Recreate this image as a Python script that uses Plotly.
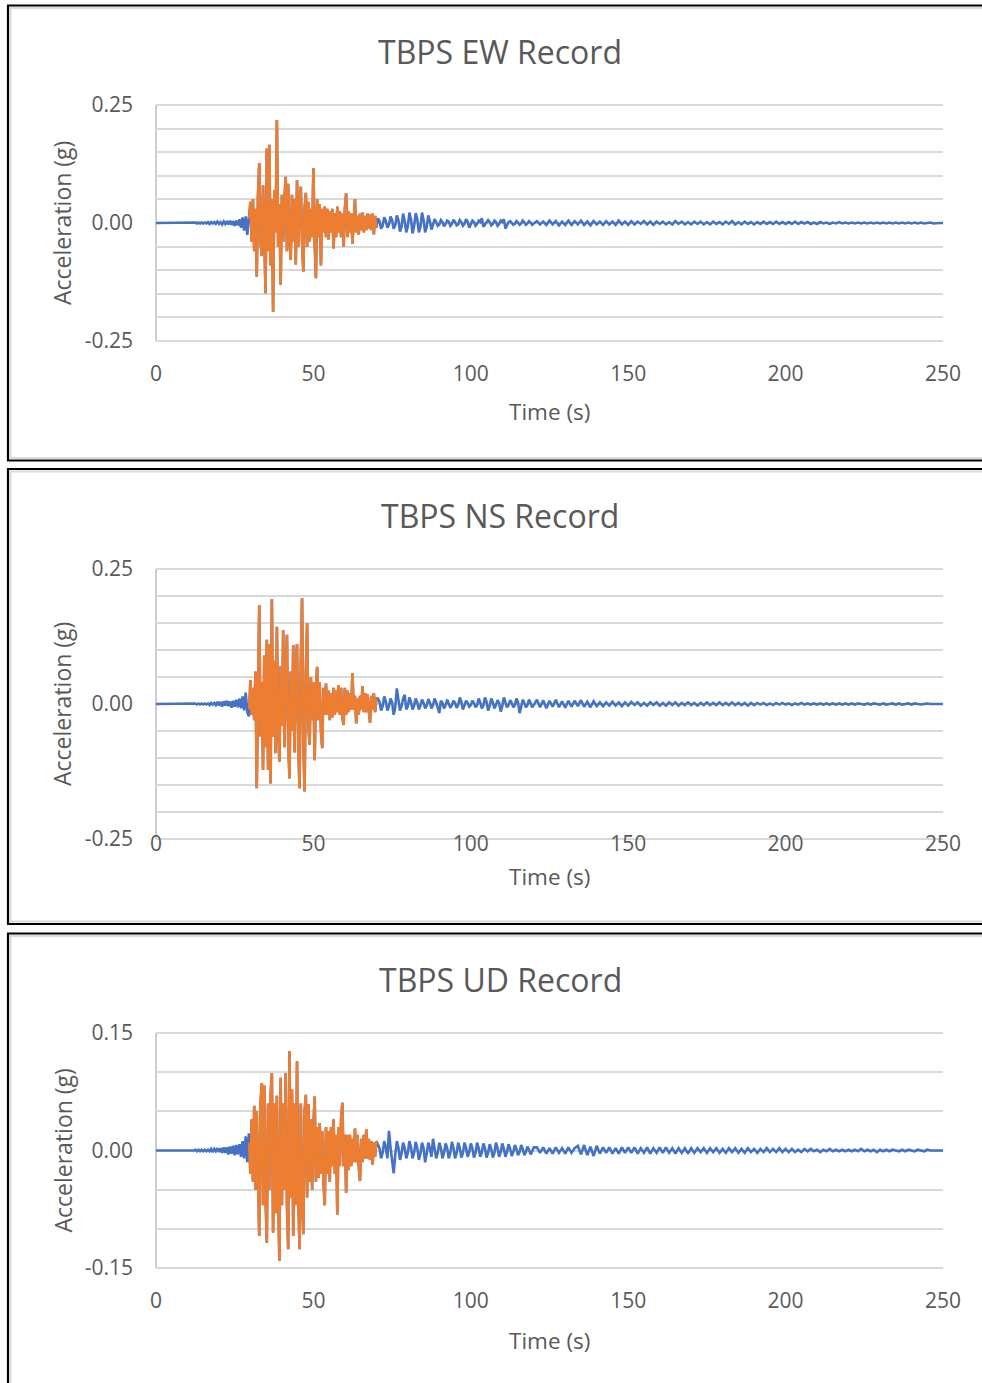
import plotly.graph_objects as go

# ---------------------------------------------------------------------------
# Ground-motion records (acceleration in g). Each record is stored as
# segments sampled at a constant time step: quiet lead-in, pre-event
# ripples, the strong-motion window (highlighted), the coda, and the tail.
# ---------------------------------------------------------------------------

PRE_START, PRE_DT = 12.0, 0.5
STRONG_START, STRONG_DT = 29.6, 0.4
POST_START, POST_DT = 70.5, 0.5
TAIL_START, TAIL_DT = 121.0, 1.0

TIME_TICKS = [0, 50, 100, 150, 200, 250]
TIME_TICK_TEXT = ["0", "50", "100", "150", "200", "250"]

# ---- EW component ----
EW_PRE = [0.0, 0.001, -0.001, 0.001, -0.001, 0.001, -0.001, 0.001, -0.001,
          0.002, -0.002, 0.002, -0.001, 0.002, -0.002, 0.003, -0.002, 0.002, -0.003, 0.003, -0.002,
          0.004, -0.003, 0.005, -0.004, 0.004, -0.006, 0.005, -0.005,
          0.008, -0.010, 0.012, -0.016, 0.014, -0.025, 0.020]
EW_STRONG = [0.010, 0.045, -0.040, 0.050, -0.060, 0.030, -0.114, 0.060, 0.127, -0.040,
             -0.070, 0.080, -0.030, -0.149, 0.158, -0.060, 0.166, -0.090, 0.050, -0.188,
             0.070, -0.020, 0.218, -0.050, 0.040, -0.131, 0.060, -0.040, 0.050, 0.098,
             -0.060, 0.083, -0.030, -0.078, 0.060, -0.040, 0.050, -0.088, 0.091, -0.050,
             0.040, 0.077, -0.040, -0.103, 0.030, 0.064, -0.050, 0.045, -0.040, 0.030,
             -0.030, 0.116, -0.040, -0.117, 0.050, -0.030, 0.040, -0.090, 0.030, -0.020,
             0.035, -0.030, 0.030, -0.035, 0.025, -0.020, 0.030, -0.054, 0.020, -0.030,
             0.035, -0.020, 0.025, -0.030, 0.020, -0.050, 0.030, 0.063, -0.030, 0.025,
             -0.020, 0.020, -0.044, 0.020, 0.050, -0.020, 0.015, -0.025, 0.020, -0.015,
             0.022, -0.020, 0.015, -0.015, 0.020, -0.012, 0.018, -0.015, 0.020, -0.024,
             0.015, -0.010]
EW_POST = [0.010, 0.004, -0.012, -0.006, 0.012, 0.005, -0.010, -0.004, 0.014, 0.006, -0.012, -0.005,
           0.016, 0.006, -0.018, -0.008, 0.020, 0.004, -0.020, -0.006, 0.022, 0.008, -0.022, -0.006,
           0.021, 0.008, -0.020, -0.008, 0.022, 0.006, -0.020, -0.008, 0.016, 0.004, -0.014, -0.004,
           0.008, 0.002, -0.006, -0.003, 0.006, 0.002, -0.007, -0.002, 0.005, 0.003, -0.006, -0.002,
           0.007, 0.002, -0.005, -0.003, 0.006, 0.002, -0.006, -0.002, 0.008, 0.003, -0.010, -0.003,
           0.005, 0.002, -0.006, -0.002, 0.005, 0.002, 0.010, -0.008, -0.004, 0.002, 0.006, 0.002,
           -0.005, -0.002, 0.005, 0.002, -0.006, -0.002, 0.005, 0.002, 0.008, -0.012, -0.004, 0.002,
           0.004, 0.001, -0.004, -0.002, 0.004, 0.001, -0.004, -0.001, 0.005, 0.001, -0.004, -0.001,
           0.004, 0.001, -0.004, -0.001]
EW_TAIL = [0.004, -0.003, 0.003, -0.004, 0.005, -0.003, 0.004, -0.005, 0.003, -0.004,
           0.005, -0.004, 0.004, -0.003, 0.005, -0.004, 0.003, -0.005, 0.004, -0.003,
           0.003, -0.004, 0.004, -0.003, 0.003, -0.004, 0.005, -0.003, 0.003, -0.004,
           0.004, -0.003, 0.003, -0.002, 0.004, -0.003, 0.003, -0.004, 0.003, -0.002,
           0.003, -0.003, 0.002, -0.003, 0.004, -0.002, 0.003, -0.003, 0.002, -0.003,
           0.003, -0.002, 0.003, -0.003, 0.002, -0.003, 0.003, -0.002, 0.002, -0.003,
           0.003, -0.002, 0.004, -0.003, 0.002, -0.003, 0.003, -0.002, 0.002, -0.003,
           0.002, -0.002, 0.003, -0.002, 0.002, -0.002, 0.003, -0.002, 0.002, -0.002,
           0.002, -0.002, 0.003, -0.002, 0.002, -0.001, 0.002, -0.002, 0.001, -0.002,
           0.002, -0.001, 0.001, -0.002, 0.001, -0.001, 0.002, -0.001, 0.001, -0.001,
           0.001, -0.001, 0.001, -0.001, 0.001, -0.001, 0.001, -0.001, 0.001, -0.001,
           0.001, -0.001, 0.001, -0.001, 0.001, -0.001, 0.001, -0.001, 0.001, -0.001,
           0.001, -0.001, 0.001, -0.001, 0.000, 0.001, -0.001, 0.000, 0.000, 0.000]

# ---- NS component ----
NS_PRE = [0.0, 0.001, -0.001, 0.001, -0.001, 0.001, -0.001, 0.001, -0.001,
          0.001, -0.002, 0.002, -0.001, 0.002, -0.002, 0.004, -0.003, 0.004, -0.005, 0.005, -0.003,
          0.006, -0.004, 0.005, -0.007, 0.006, -0.005, 0.008, -0.006,
          0.010, -0.008, 0.014, -0.012, 0.021, -0.015, -0.023]
NS_STRONG = [-0.010, 0.044, -0.020, 0.030, -0.030, 0.060, -0.156, 0.050, 0.183, -0.060,
             0.040, -0.122, 0.090, -0.080, 0.119, -0.122, 0.110, -0.147, 0.194, -0.060,
             0.080, -0.091, 0.143, -0.050, -0.107, 0.070, -0.040, 0.137, -0.080, 0.060,
             0.128, -0.070, -0.138, 0.060, -0.050, 0.109, -0.090, 0.070, 0.111, -0.080,
             -0.156, 0.080, 0.196, -0.070, -0.162, 0.060, 0.149, -0.040, -0.076, 0.050,
             -0.030, 0.040, -0.104, 0.030, 0.069, -0.030, 0.040, -0.050, -0.082, 0.030,
             -0.020, 0.038, -0.020, 0.025, -0.030, 0.020, -0.025, 0.030, -0.020, 0.025,
             -0.015, 0.035, -0.020, 0.030, -0.025, -0.039, 0.030, -0.020, 0.025, -0.015,
             0.020, -0.010, 0.057, -0.010, 0.015, -0.036, 0.010, -0.020, 0.015, -0.010,
             0.033, -0.015, 0.020, -0.015, 0.018, -0.012, -0.035, 0.015, -0.010, 0.020,
             -0.015, 0.010]
NS_POST = [0.010, 0.004, -0.012, -0.004, 0.014, 0.005, -0.012, -0.004, 0.010, 0.003, -0.020, -0.006,
           0.029, 0.008, -0.012, -0.004, 0.010, 0.017, -0.010, -0.004, 0.012, 0.004, -0.010, -0.003,
           0.010, 0.003, -0.010, -0.003, 0.008, 0.002, -0.008, -0.003, 0.009, 0.003, -0.008, -0.002,
           0.010, 0.003, -0.010, -0.017, 0.006, 0.002, -0.008, -0.002, 0.008, 0.002, -0.007, -0.002,
           0.006, 0.002, -0.007, -0.002, 0.012, 0.004, -0.010, -0.003, 0.006, 0.002, -0.005, -0.002,
           0.006, 0.002, -0.006, -0.002, 0.010, 0.003, -0.008, -0.003, 0.012, 0.004, -0.012, -0.004,
           0.010, 0.003, -0.008, -0.002, 0.007, 0.002, -0.014, -0.004, 0.012, 0.003, -0.006, -0.002,
           0.007, 0.002, -0.006, -0.002, 0.010, 0.003, -0.017, -0.005, 0.008, 0.002, -0.006, -0.002,
           0.008, 0.002, -0.006, -0.002]
NS_TAIL = [0.008, -0.006, 0.007, -0.008, 0.006, -0.005, 0.008, -0.006, 0.005, -0.007,
           0.006, -0.005, 0.006, -0.004, 0.007, -0.005, 0.004, -0.006, 0.005, -0.004,
           0.003, -0.004, 0.003, -0.003, 0.004, -0.003, 0.003, -0.004, 0.003, -0.003,
           0.004, -0.002, 0.003, -0.003, 0.002, -0.003, 0.003, -0.002, 0.003, -0.003,
           0.002, -0.003, 0.003, -0.002, 0.003, -0.003, 0.002, -0.002, 0.003, -0.002,
           0.002, -0.003, 0.002, -0.002, 0.003, -0.002, 0.002, -0.002, 0.003, -0.002,
           0.002, -0.002, 0.003, -0.002, 0.002, -0.002, 0.002, -0.003, 0.002, -0.002,
           0.002, -0.001, 0.002, -0.002, 0.001, -0.002, 0.002, -0.001, 0.002, -0.001,
           0.001, -0.002, 0.001, -0.001, 0.002, -0.001, 0.001, -0.001, 0.001, -0.001,
           0.001, -0.001, 0.001, -0.001, 0.001, -0.001, 0.001, -0.001, 0.001, -0.001,
           0.001, -0.001, 0.001, 0.000, -0.001, 0.001, -0.001, 0.001, 0.000, -0.001,
           0.001, -0.001, 0.000, 0.001, -0.001, 0.001, -0.001, 0.000, 0.001, -0.001,
           0.001, 0.000, -0.001, 0.000, 0.001, 0.000, 0.000, 0.000, 0.000, 0.000]

# ---- UD component ----
UD_PRE = [0.0, 0.001, -0.001, 0.001, -0.001, 0.001, -0.001, 0.001, -0.001,
          0.001, -0.001, 0.002, -0.002, 0.002, -0.001, 0.003, -0.002, 0.003, -0.003, 0.004, -0.003,
          0.004, -0.005, 0.005, -0.004, 0.006, -0.006, 0.007, -0.005,
          0.008, -0.008, 0.012, -0.010, 0.018, -0.015, 0.022]
UD_STRONG = [0.010, -0.030, 0.040, -0.040, 0.057, -0.050, 0.050, -0.060, -0.109, 0.060,
             0.086, -0.070, 0.083, -0.060, -0.118, 0.060, -0.050, 0.070, 0.099, -0.105,
             0.060, -0.080, 0.070, -0.060, -0.141, 0.093, -0.070, 0.060, -0.050, 0.099,
             -0.070, -0.126, 0.127, -0.060, 0.078, -0.109, 0.060, -0.070, 0.114, -0.060,
             -0.126, 0.060, -0.060, -0.107, 0.050, 0.071, -0.060, 0.059, -0.040, 0.040,
             -0.050, 0.030, 0.069, -0.040, 0.030, -0.035, 0.035, -0.030, 0.025, -0.040,
             -0.070, 0.030, -0.030, 0.025, -0.040, 0.030, -0.020, 0.040, -0.030, 0.020,
             -0.082, 0.030, -0.020, 0.040, 0.061, -0.020, 0.020, -0.054, 0.020, -0.025,
             0.020, -0.020, 0.015, -0.015, 0.028, -0.015, 0.020, -0.020, -0.039, 0.015,
             -0.015, 0.020, -0.010, 0.027, -0.010, 0.015, -0.012, 0.012, -0.018, 0.010,
             -0.008, 0.012]
UD_POST = [0.008, 0.003, -0.010, -0.003, 0.012, 0.004, -0.010, 0.025, 0.004, -0.012, -0.029, -0.006,
           0.012, 0.004, -0.012, -0.004, 0.010, 0.003, -0.010, -0.003, 0.012, 0.004, -0.010, -0.003,
           0.011, 0.003, -0.012, -0.004, 0.010, 0.003, -0.015, -0.004, 0.010, 0.003, -0.008, 0.015,
           0.004, -0.010, -0.003, 0.010, 0.003, -0.010, -0.003, 0.009, 0.003, -0.010, -0.003, 0.011,
           0.003, -0.010, -0.003, 0.010, 0.003, -0.009, -0.003, 0.010, 0.003, -0.008, -0.002, 0.009,
           0.003, -0.009, -0.003, 0.010, 0.003, -0.008, -0.002, 0.009, 0.003, -0.009, -0.003, 0.008,
           0.002, -0.009, -0.003, 0.010, 0.003, -0.008, -0.002, 0.009, 0.002, -0.008, -0.002, 0.008,
           0.002, -0.007, -0.002, 0.007, 0.002, -0.006, -0.002, 0.007, 0.002, -0.006, -0.002, 0.005,
           0.001, -0.005, -0.001, 0.004]
UD_TAIL = [0.004, -0.003, 0.004, -0.004, 0.003, -0.004, 0.004, -0.003, 0.003, -0.004,
           0.004, -0.003, 0.003, 0.006, -0.005, 0.007, -0.006, 0.005, -0.007, 0.006,
           -0.004, 0.004, -0.003, 0.004, -0.004, 0.003, -0.004, 0.004, -0.003, 0.004,
           -0.003, 0.004, -0.004, 0.003, -0.003, 0.004, -0.004, 0.003, -0.003, 0.004,
           -0.003, 0.004, -0.003, 0.003, -0.004, 0.003, -0.003, 0.003, -0.004, 0.003,
           -0.003, 0.003, -0.002, 0.003, -0.003, 0.003, -0.002, 0.003, -0.003, 0.002,
           -0.003, 0.003, -0.002, 0.003, -0.003, 0.002, -0.003, 0.003, -0.002, 0.002,
           -0.003, 0.002, -0.002, 0.003, -0.002, 0.002, -0.002, 0.003, -0.002, 0.002,
           -0.002, 0.002, -0.002, 0.001, -0.002, 0.002, -0.001, 0.002, -0.001, 0.001,
           -0.002, 0.001, -0.001, 0.002, -0.001, 0.001, -0.001, 0.001, -0.001, 0.001,
           -0.001, 0.001, -0.001, 0.002, -0.001, 0.001, -0.001, 0.001, -0.002, 0.001,
           -0.001, 0.001, -0.001, 0.001, 0.000, -0.001, 0.001, -0.001, 0.001, 0.000,
           -0.001, 0.001, 0.000, -0.001, 0.001, 0.000, 0.000, 0.000, 0.000, 0.000]

# Y-axis gridlines (every 0.05 g) and the labels shown on them
PGA_GRID = [-0.25, -0.20, -0.15, -0.10, -0.05, 0.0, 0.05, 0.10, 0.15, 0.20, 0.25]
PGA_GRID_TEXT = ["-0.25", "", "", "", "", "0.00", "", "", "", "", "0.25"]
UD_GRID = [-0.15, -0.10, -0.05, 0.0, 0.05, 0.10, 0.15]
UD_GRID_TEXT = ["-0.15", "", "", "0.00", "", "", "0.15"]

TITLES = ["TBPS EW Record", "TBPS NS Record", "TBPS UD Record"]

BLUE = "#4472C4"
ORANGE = "#ED7D31"
TEXT = "#595959"
GRID = "#D9D9D9"
FONT = "Open Sans"

W, H = 982, 1383
EDGE_PAD = 3  # px of slack so the outermost gridlines are not clipped


def sampled(start, dt, values):
    return [round(start + i * dt, 3) for i in range(len(values))], list(values)


def full_record(pre, strong, post, tail):
    xs, ys = [0.0], [0.0]
    for start, dt, vals in ((PRE_START, PRE_DT, pre), (STRONG_START, STRONG_DT, strong),
                            (POST_START, POST_DT, post), (TAIL_START, TAIL_DT, tail)):
        t, v = sampled(start, dt, vals)
        xs += t
        ys += v
    return xs, ys


records = [
    (EW_PRE, EW_STRONG, EW_POST, EW_TAIL, PGA_GRID, PGA_GRID_TEXT),
    (NS_PRE, NS_STRONG, NS_POST, NS_TAIL, PGA_GRID, PGA_GRID_TEXT),
    (UD_PRE, UD_STRONG, UD_POST, UD_TAIL, UD_GRID, UD_GRID_TEXT),
]

# pixel layout of each panel: plot top, plot bottom, frame top, frame bottom,
# title row, x-title row, x tick-label standoff
panels = [
    dict(top=105, bottom=341, ftop=5.5, fbot=460.5, title=51, xt=411, stand=12),
    dict(top=569, bottom=839, ftop=469, fbot=924, title=515, xt=876, stand=-16),
    dict(top=1033, bottom=1268, ftop=933.5, fbot=1400, title=979, xt=1340, stand=12),
]

fig = go.Figure()
layout = dict(
    width=W, height=H, margin=dict(l=0, r=0, t=0, b=0, autoexpand=False),
    paper_bgcolor="white", plot_bgcolor="white", showlegend=False,
    font=dict(family=FONT, color=TEXT),
)
annotations, shapes = [], []

for k, ((pre, strong, post, tail, grid, grid_text), p) in enumerate(zip(records, panels), start=1):
    xa = "x" if k == 1 else f"x{k}"
    ya = "y" if k == 1 else f"y{k}"

    bx, by = full_record(pre, strong, post, tail)
    fig.add_trace(go.Scatter(x=bx, y=by, mode="lines", xaxis=xa, yaxis=ya,
                             line=dict(color=BLUE, width=2.6), hoverinfo="skip"))
    ox, oy = sampled(STRONG_START, STRONG_DT, strong)
    fig.add_trace(go.Scatter(x=ox, y=oy, mode="lines", xaxis=xa, yaxis=ya,
                             line=dict(color=ORANGE, width=2.6), hoverinfo="skip"))

    # pad the value range a few pixels so the end gridlines are drawn
    per_px = (grid[-1] - grid[0]) / (p["bottom"] - p["top"])
    pad = EDGE_PAD * per_px

    layout[f"xaxis{'' if k == 1 else k}"] = dict(
        domain=[156 / W, 943 / W], range=[0, 250], anchor=ya, automargin=False,
        tickmode="array", tickvals=TIME_TICKS, ticktext=TIME_TICK_TEXT,
        showgrid=False, zeroline=False, showline=False, ticks="",
        ticklabelstandoff=p["stand"] + EDGE_PAD,
        tickfont=dict(family=FONT, size=21, color=TEXT),
    )
    layout[f"yaxis{'' if k == 1 else k}"] = dict(
        domain=[1 - (p["bottom"] + EDGE_PAD) / H, 1 - (p["top"] - EDGE_PAD) / H],
        range=[grid[0] - pad, grid[-1] + pad], anchor=xa, automargin=False,
        tickmode="array", tickvals=grid, ticktext=grid_text,
        showgrid=True, gridcolor=GRID, gridwidth=1.8,
        zeroline=False, showline=False,
        ticks="", ticklabelstandoff=22,
        tickfont=dict(family=FONT, size=21, color=TEXT),
    )

    # vertical axis line spanning the labelled range
    shapes.append(dict(type="line", xref=f"{xa} domain", yref=ya,
                       x0=0, x1=0, y0=grid[0], y1=grid[-1],
                       line=dict(color="#C8C8C8", width=1.8), layer="below"))

    annotations.append(dict(text=TITLES[k - 1], x=500 / W, y=1 - p["title"] / H,
                            xref="paper", yref="paper", showarrow=False,
                            xanchor="center", yanchor="middle",
                            font=dict(family=FONT, size=32, color=TEXT)))
    annotations.append(dict(text="Time (s)", x=549 / W, y=1 - p["xt"] / H,
                            xref="paper", yref="paper", showarrow=False,
                            xanchor="center", yanchor="middle",
                            font=dict(family=FONT, size=22.5, color=TEXT)))
    mid = (p["top"] + p["bottom"]) / 2
    annotations.append(dict(text="Acceleration (g)", x=62 / W, y=1 - mid / H,
                            xref="paper", yref="paper", showarrow=False, textangle=-90,
                            xanchor="center", yanchor="middle",
                            font=dict(family=FONT, size=23, color=TEXT)))

    # chart frame: dark outer border with a light inner edge
    shapes.append(dict(type="rect", xref="paper", yref="paper",
                       x0=8 / W, x1=1.05, y0=1 - p["fbot"] / H, y1=1 - p["ftop"] / H,
                       line=dict(color="black", width=2.2), layer="above"))
    shapes.append(dict(type="rect", xref="paper", yref="paper",
                       x0=10.5 / W, x1=1.05, y0=1 - (p["fbot"] - 2.5) / H, y1=1 - (p["ftop"] + 2.5) / H,
                       line=dict(color=GRID, width=2), layer="above"))

layout["annotations"] = annotations
layout["shapes"] = shapes
fig.update_layout(**layout)

fig.write_html("out.html")
